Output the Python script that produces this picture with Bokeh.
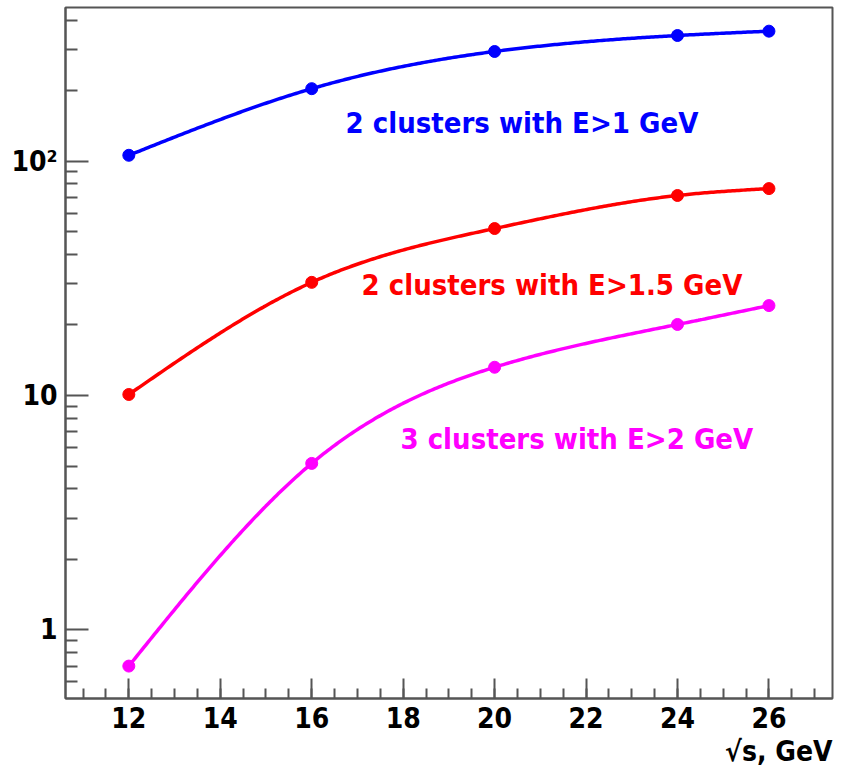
import numpy as np
from bokeh.plotting import figure
from bokeh.models import FixedTicker, Label, Range1d, Title
from bokeh.embed import file_html
from bokeh.resources import INLINE

# Yields versus centre-of-mass energy for three cluster selections
sqrt_s = [12, 16, 20, 24, 26]
two_clusters_e1 = [106, 204, 294, 344, 359]
two_clusters_e15 = [10.1, 30.4, 51.6, 71.4, 76.4]
three_clusters_e2 = [0.70, 5.13, 13.2, 20.1, 24.2]

series_labels = ["2 clusters with E>1 GeV", "2 clusters with E>1.5 GeV", "3 clusters with E>2 GeV"]
series_colors = ["#0000ff", "#ff0000", "#ff00ff"]

x_major_ticks = [12, 14, 16, 18, 20, 22, 24, 26]
y_major_ticks = [1, 10, 100]
y_tick_labels = {1: "1", 10: "10", 100: "10\u00b2"}
x_title = "\u221as, GeV"

FONT = "'DejaVu Sans Condensed', 'Roboto Condensed', 'Liberation Sans Narrow', 'Arial Narrow', Roboto, sans-serif"


def natural_spline(x, y, n=300):
    """Smooth curve through the points (natural cubic spline)."""
    x = np.asarray(x, float)
    y = np.asarray(y, float)
    m = len(x)
    h = np.diff(x)
    A = np.zeros((m, m))
    b = np.zeros(m)
    A[0, 0] = A[-1, -1] = 1.0
    for i in range(1, m - 1):
        A[i, i - 1] = h[i - 1]
        A[i, i] = 2 * (h[i - 1] + h[i])
        A[i, i + 1] = h[i]
        b[i] = 6 * ((y[i + 1] - y[i]) / h[i] - (y[i] - y[i - 1]) / h[i - 1])
    M = np.linalg.solve(A, b)
    xs = np.linspace(x[0], x[-1], n)
    idx = np.clip(np.searchsorted(x, xs) - 1, 0, m - 2)
    x0, x1 = x[idx], x[idx + 1]
    hh = x1 - x0
    t0 = x1 - xs
    t1 = xs - x0
    ys = (M[idx] * t0 ** 3 + M[idx + 1] * t1 ** 3) / (6 * hh) \
        + (y[idx] / hh - M[idx] * hh / 6) * t0 \
        + (y[idx + 1] / hh - M[idx + 1] * hh / 6) * t1
    return xs, ys


p = figure(
    width=846, height=769,
    y_axis_type="log",
    x_range=Range1d(10.615, 27.39),
    y_range=Range1d(0.509, 453),
    output_backend="svg",
    toolbar_location=None,
    min_border_left=65, min_border_right=14,
    min_border_top=7, min_border_bottom=71,
    background_fill_color="white",
    border_fill_color="white",
)
p.xgrid.visible = False
p.ygrid.visible = False
p.outline_line_color = "#555555"
p.outline_line_width = 2

# x axis: major ticks every 2, minor every 0.5, all drawn inside the frame
p.xaxis.ticker = FixedTicker(ticks=x_major_ticks,
                             minor_ticks=list(np.arange(10.5, 28.0, 0.5)))
# y axis: decades with 2..9 subdivisions
minor_y = [m * 10.0 ** k for k in range(-1, 3) for m in range(2, 10)]
p.yaxis.ticker = FixedTicker(ticks=y_major_ticks, minor_ticks=minor_y)
p.yaxis.major_label_overrides = y_tick_labels

for ax in (p.xaxis[0], p.yaxis[0]):
    ax.axis_line_color = "#555555"
    ax.axis_line_width = 2
    ax.major_tick_line_color = "#555555"
    ax.minor_tick_line_color = "#555555"
    ax.major_tick_line_width = 2
    ax.minor_tick_line_width = 2
    ax.major_tick_out = 0
    ax.minor_tick_out = 0
    ax.major_label_text_font = FONT
    ax.major_label_text_font_style = "bold"
    ax.major_label_text_font_size = "28px"
    ax.major_label_text_color = "black"

p.xaxis.major_tick_in = 20
p.xaxis.minor_tick_in = 10
p.xaxis.major_label_standoff = 8
p.yaxis.major_tick_in = 23
p.yaxis.minor_tick_in = 12
p.yaxis.major_label_standoff = 8

for ys, color in zip([two_clusters_e1, two_clusters_e15, three_clusters_e2], series_colors):
    cx, cy = natural_spline(sqrt_s, np.log10(ys))
    p.line(cx, 10 ** cy, line_color=color, line_width=3.5)
    p.scatter(sqrt_s, ys, size=12, fill_color=color, line_color=color)

# series annotations
label_pos = [(16.74, 144.9), (17.09, 29.6), (17.94, 6.55)]
for text, color, (lx, ly) in zip(series_labels, series_colors, label_pos):
    p.add_layout(Label(x=lx, y=ly, text=text, text_color=color,
                       text_font=FONT, text_font_style="bold",
                       text_font_size="29px", text_baseline="middle",
                       text_align="left"))

# axis title, right-aligned under the tick labels
p.add_layout(Title(text=x_title, align="right", text_color="black",
                   text_font=FONT, text_font_style="bold",
                   text_font_size="28px", standoff=4, offset=0), "below")

open("out.html", "w").write(file_html(p, INLINE))
